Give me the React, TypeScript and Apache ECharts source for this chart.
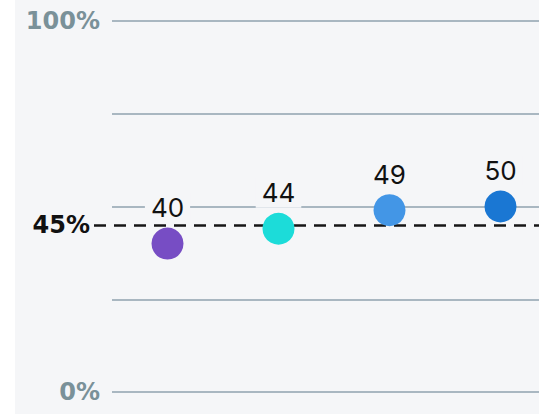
import React, { useEffect, useRef } from "react";
import * as echarts from "echarts";

const categories = ["Group 1", "Group 2", "Group 3", "Group 4"];
const values = [40, 44, 49, 50];
const pointColors = ["#774dc4", "#1cdcd9", "#4396e6", "#1a77d3"];
const benchmark = 45;
const yMin = 0;
const yMax = 100;
const yInterval = 25;
const shownTicks = [0, 100];

const PANEL = "#f5f6f8";

export default function App() {
  const ref = useRef<HTMLDivElement>(null);
  useEffect(() => {
    document.body.style.margin = "0";
    if (!ref.current) return;
    const chart = echarts.init(ref.current, undefined, { renderer: "svg" });
    chart.setOption({
      animation: false,
      backgroundColor: "#ffffff",
      graphic: [
        {
          type: "rect",
          z: -10,
          silent: true,
          shape: { x: 15, y: 0, width: 600, height: 414 },
          style: { fill: PANEL },
        },
      ],
      grid: { left: 112, top: 21, width: 444, height: 371, outerBoundsMode: "none", containLabel: false },
      xAxis: {
        type: "category",
        data: categories,
        show: false,
        boundaryGap: true,
      },
      yAxis: {
        type: "value",
        min: yMin,
        max: yMax,
        interval: yInterval,
        axisLine: { show: false },
        axisTick: { show: false },
        splitLine: { lineStyle: { color: "#a9b7c1", width: 2 } },
        axisLabel: {
          margin: 12,
          color: "#7a9199",
          fontSize: 24,
          fontWeight: "bold",
          fontFamily: "DejaVu Sans",
          formatter: (v: number) => (shownTicks.includes(v) ? v + "%" : ""),
        },
      },
      series: [
        {
          type: "scatter",
          symbol: "circle",
          symbolSize: 32,
          data: values.map((v, i) => ({ value: v, itemStyle: { color: pointColors[i] } })),
          itemStyle: { opacity: 1 },
          z: 5,
          label: {
            show: true,
            position: "top",
            distance: 5,
            color: "#111111",
            opacity: 1,
            fontSize: 26,
            fontFamily: "Inter",
            backgroundColor: PANEL,
            padding: [2, 6],
            formatter: (p: any) => String(p.value),
          },
          markLine: {
            silent: true,
            symbol: ["none", "none"],
            z: 3,
            lineStyle: { color: "#161616", width: 2.5, type: [12, 8], opacity: 1 },
            label: {
              show: true,
              position: "start",
              distance: 4,
              color: "#111111",
              fontSize: 24,
              fontWeight: "bold",
              fontFamily: "DejaVu Sans",
              formatter: () => benchmark + "%",
            },
            data: [[{ x: 94, yAxis: benchmark }, { x: 539, yAxis: benchmark }]],
          },
        },
      ],
    });
    return () => chart.dispose();
  }, []);
  return <div ref={ref} style={{ width: 539, height: 414 }} />;
}
